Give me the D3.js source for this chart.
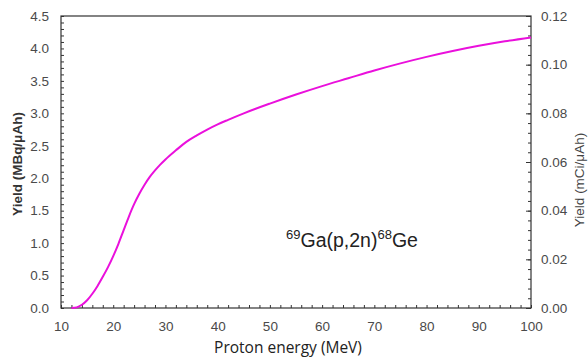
<!DOCTYPE html>
<html>
<head>
<meta charset="utf-8">
<script src="https://cdn.jsdelivr.net/npm/d3@7"></script>
<style>
  body { margin: 0; background: #fff; }
  svg { display: block; font-family: "Liberation Sans", Arial, sans-serif; }
  .tick text { fill: #4a4a4a; font-size: 13.5px; }
  .domain { stroke: #333; }
  .tick line { stroke: #333; }
</style>
</head>
<body>
<svg width="588" height="358"></svg>
<script>
const width = 588;
const height = 358;
const svg = d3.select("svg");

// proton energy (MeV) and thick-target yield (MBq/uAh)
const energy = [12, 13, 14, 15, 16, 17, 18, 19, 20, 21, 22, 23, 24, 25, 26, 27, 28, 29, 30,
    32, 34, 36, 38, 40, 42, 45, 50, 55, 60, 65, 70, 75, 80, 85, 90, 95, 100];
const yieldMBq = [0, 0.01, 0.05, 0.12, 0.22, 0.34, 0.48, 0.63, 0.80, 0.99, 1.20, 1.41, 1.60, 1.76, 1.90, 2.02, 2.12, 2.21, 2.29,
    2.43, 2.56, 2.66, 2.75, 2.83, 2.90, 3.00, 3.15, 3.29, 3.42, 3.54, 3.66, 3.77, 3.87, 3.96, 4.04, 4.11, 4.17];

const xTicks = [10, 20, 30, 40, 50, 60, 70, 80, 90, 100];
const yTicks = [0, 0.5, 1.0, 1.5, 2.0, 2.5, 3.0, 3.5, 4.0, 4.5];
const y2Ticks = [0, 0.02, 0.04, 0.06, 0.08, 0.10, 0.12];

const margin = {left: 61, right: 57, top: 16, bottom: 50};
const x0 = margin.left, x1 = width - margin.right;
const y0 = height - margin.bottom, y1 = margin.top;

const x = d3.scaleLinear().domain([10, 100]).range([x0, x1]);
const y = d3.scaleLinear().domain([0, 4.5]).range([y0, y1]);
const y2 = d3.scaleLinear().domain([0, 0.12]).range([y0, y1]);

// minor ticks first
svg.append("g")
    .attr("transform", `translate(0,${y0})`)
    .call(d3.axisTop(x).tickValues(d3.range(10, 100.1, 2)).tickSize(3).tickFormat(""))
    .call(g => g.select(".domain").remove());
svg.append("g")
    .attr("transform", `translate(${x0},0)`)
    .call(d3.axisRight(y).tickValues(d3.range(0, 4.51, 0.1)).tickSize(3).tickFormat(""))
    .call(g => g.select(".domain").remove());
svg.append("g")
    .attr("transform", `translate(${x1},0)`)
    .call(d3.axisLeft(y2).tickValues(d3.range(0, 0.1201, 0.004)).tickSize(3).tickFormat(""))
    .call(g => g.select(".domain").remove());

// major ticks with labels
svg.append("g")
    .attr("transform", `translate(0,${y0})`)
    .call(d3.axisBottom(x).tickValues(xTicks).tickSize(0).tickPadding(13))
    .call(g => g.select(".domain").remove());
svg.append("g")
    .attr("transform", `translate(${x0},0)`)
    .call(d3.axisLeft(y).tickValues(yTicks).tickSize(0).tickPadding(12).tickFormat(d3.format(".1f")))
    .call(g => g.select(".domain").remove());
svg.append("g")
    .attr("transform", `translate(${x1},0)`)
    .call(d3.axisRight(y2).tickValues(y2Ticks).tickSize(0).tickPadding(10).tickFormat(d3.format(".2f")))
    .call(g => g.select(".domain").remove());
svg.append("g")
    .attr("transform", `translate(${x1},0)`)
    .call(d3.axisLeft(y2).tickValues(y2Ticks).tickSize(5).tickFormat(""))
    .call(g => g.select(".domain").remove());

// frame
svg.append("rect")
    .attr("x", x0).attr("y", y1)
    .attr("width", x1 - x0).attr("height", y0 - y1)
    .attr("fill", "none").attr("stroke", "#333").attr("stroke-width", 1.2);

// yield curve
const line = d3.line()
    .x((d, i) => x(energy[i]))
    .y(d => y(d))
    .curve(d3.curveMonotoneX);
svg.append("path")
    .datum(yieldMBq)
    .attr("d", line)
    .attr("fill", "none")
    .attr("stroke", "#ea10dc")
    .attr("stroke-width", 2);

// axis titles
svg.append("text")
    .attr("x", 288).attr("y", 353)
    .attr("text-anchor", "middle")
    .style("font-family", "'Open Sans', sans-serif")
    .style("font-size", "15.5px")
    .attr("fill", "#222")
    .text("Proton energy (MeV)");

svg.append("text")
    .attr("transform", "translate(22,164) rotate(-90)")
    .attr("text-anchor", "middle")
    .style("font-size", "13.5px")
    .style("font-weight", "bold")
    .attr("fill", "#333")
    .text("Yield (MBq/μAh)");

svg.append("text")
    .attr("transform", "translate(584,180) rotate(-90)")
    .attr("text-anchor", "middle")
    .style("font-size", "13.5px")
    .attr("fill", "#444")
    .text("Yield (mCi/μAh)");

// reaction label
const lab = svg.append("text")
    .attr("x", 286).attr("y", 247)
    .style("font-size", "19.5px")
    .attr("fill", "#222");
lab.append("tspan").attr("dy", -8).style("font-size", "13px").text("69");
lab.append("tspan").attr("dy", 8).text("Ga(p,2n)");
lab.append("tspan").attr("dy", -8).style("font-size", "13px").text("68");
lab.append("tspan").attr("dy", 8).text("Ge");
</script>
</body>
</html>
